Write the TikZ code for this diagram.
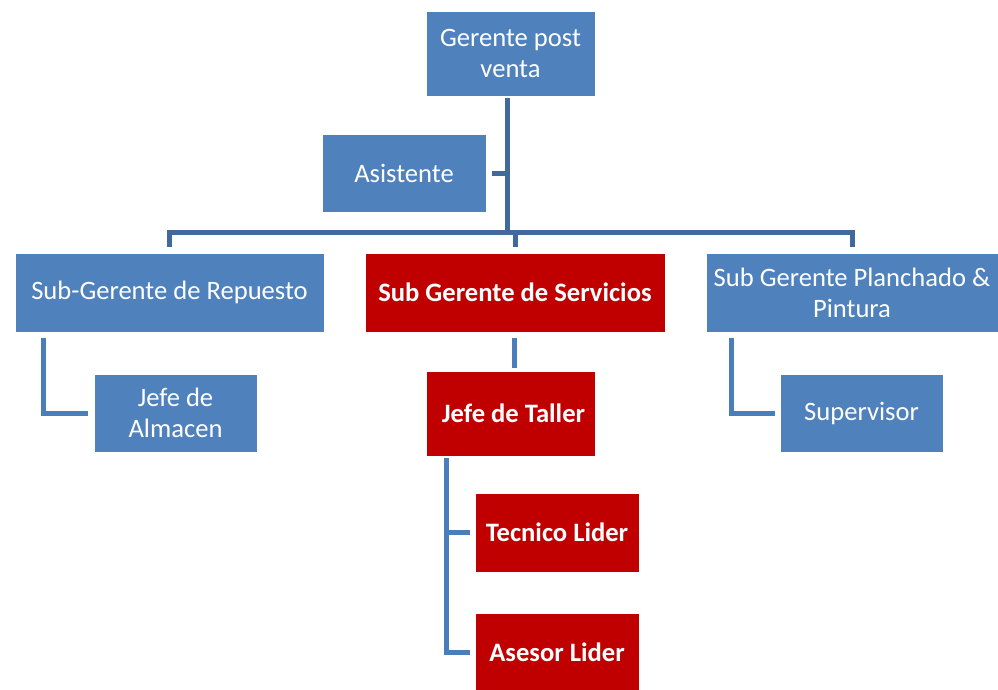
\documentclass[tikz,border=0pt]{standalone}
\usepackage{fontspec}
\setmainfont{Carlito}
\usepackage{tikz}
\usetikzlibrary{positioning,calc}
\definecolor{boxblue}{HTML}{4F81BD}
\definecolor{boxred}{HTML}{C00000}
\definecolor{linedark}{HTML}{41699B}
\definecolor{linelight}{HTML}{4A7EBB}

\begin{document}
\begin{tikzpicture}[x=1pt,y=-1pt,
  unit/.style={rectangle,draw=white,line width=0.6pt,text=white,align=center,
    inner sep=0pt,font=\fontsize{26.6}{31}\selectfont},
  bluebox/.style={unit,fill=boxblue},
  redbox/.style={unit,fill=boxred,font=\fontsize{26.6}{31}\selectfont\bfseries},
  conn/.style={line width=5pt,draw=linedark},
  subconn/.style={line width=5pt,draw=linelight}]
  \useasboundingbox (0,0) rectangle (998,689);

  % Top manager and assistant
  \node[bluebox,minimum width=169pt,minimum height=85pt] (gerente) at (510.5,53.5) {Gerente post\\venta};
  \node[bluebox,minimum width=164pt,minimum height=78pt] (asistente) at (404,173) {Asistente};

  % Second level
  \node[bluebox,minimum width=309pt,minimum height=79pt] (repuesto) at (169.5,292.5) {Sub-Gerente de Repuesto};
  \node[redbox,minimum width=300pt,minimum height=79pt] (servicios) at (515,292.5) {Sub Gerente de Servicios};
  \node[bluebox,minimum width=292pt,minimum height=79pt] (planchado) at (852,292.5) {Sub Gerente Planchado \&\\Pintura};

  % Third level
  \node[bluebox,minimum width=163pt,minimum height=78pt] (almacen) at (175.5,413) {Jefe de\\Almacen};
  \node[redbox,minimum width=169pt,minimum height=85pt] (taller) at (510.5,413.5) {\hspace{6pt}Jefe de Taller};
  \node[bluebox,minimum width=163pt,minimum height=78pt] (supervisor) at (861.5,413) {Supervisor};

  % Under the workshop chief
  \node[redbox,minimum width=164pt,minimum height=79pt] (tecnico) at (557,532.5) {Tecnico Lider};
  \node[redbox,minimum width=164pt,minimum height=79pt] (asesor) at (557,652.5) {Asesor Lider};

  % Upper connectors
  \coordinate (hub) at (507,232);
  \draw[conn] ([yshift=-2pt]gerente.south -| hub) -- (hub);
  \draw[conn] ([xshift=6pt]asistente.east) -- (asistente.east -| hub);
  \draw[conn] ([yshift=6pt]repuesto.north) |- (hub) -| ([yshift=6pt]planchado.north);
  \draw[conn] (servicios.north |- hub) -- ([yshift=6pt]servicios.north);

  % Lower connectors
  \draw[subconn] ([xshift=29pt,yshift=-6pt]repuesto.south west) |- ([xshift=-6pt]almacen.west);
  \draw[subconn] ([xshift=26pt,yshift=-6pt]planchado.south west) |- ([xshift=-5pt]supervisor.west);
  \draw[subconn] ([xshift=-1pt,yshift=-6pt]servicios.south) -- ([xshift=-1pt,yshift=3pt]servicios.south |- taller.north);
  \draw[subconn] ([xshift=21pt,yshift=-2pt]taller.south west) |- ([xshift=-5pt]asesor.west);
  \draw[subconn] ([xshift=21pt]taller.south west |- tecnico.west) -- ([xshift=-5pt]tecnico.west);
\end{tikzpicture}
\end{document}
